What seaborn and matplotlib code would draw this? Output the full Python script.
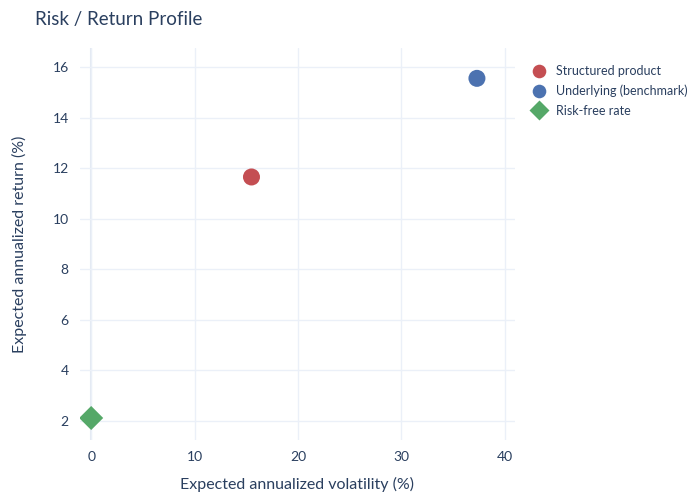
import numpy as np
import pandas as pd
import seaborn as sns
import matplotlib.pyplot as plt

# Data
labels = ['Structured product', 'Underlying (benchmark)', 'Risk-free rate']
volatility = [15.5, 37.3, 0.0]
returns = [11.65, 15.55, 2.12]
colors = ['#c44e52', '#4c72b0', '#55a868']
markers = ['o', 'o', 'D']

sns.set_style('white')
plt.rcParams['font.family'] = ['Lato', 'DejaVu Sans']
txt = '#2a3f5f'

df = pd.DataFrame({'vol': volatility, 'ret': returns, 'name': labels})

fig = plt.figure(figsize=(7, 5), dpi=100)
ax = fig.add_axes([0.114, 0.12, 0.622, 0.784])

sns.scatterplot(data=df, x='vol', y='ret', hue='name', style='name',
                hue_order=labels, style_order=labels,
                palette=colors, markers=markers, s=150, edgecolor='none', ax=ax)

ax.set_xlim(-1.1, 41)
ax.set_ylim(1.25, 16.75)
ax.set_xticks([0, 10, 20, 30, 40])
ax.set_yticks([2, 4, 6, 8, 10, 12, 14, 16])
ax.grid(True, color='#ebf0f8', linewidth=1)
ax.axvline(0, color='#e3e9f2', linewidth=1.5, zorder=0)
ax.set_axisbelow(True)
for s in ax.spines.values():
    s.set_visible(False)
ax.tick_params(colors=txt, labelsize=10, length=0, pad=8)
ax.set_xlabel('Expected annualized volatility (%)', color=txt, fontsize=11.5, labelpad=10)
ax.set_ylabel('Expected annualized return (%)', color=txt, fontsize=11.5, labelpad=18)
fig.text(0.05, 0.962, 'Risk / Return Profile', color=txt, fontsize=13.5, va='center')

leg = ax.legend(loc='upper left', bbox_to_anchor=(1.0, 0.985), frameon=False,
                fontsize=9, handletextpad=0.4, labelspacing=0.6, markerscale=0.8)
for t in leg.get_texts():
    t.set_color(txt)

fig.savefig('out.png', dpi=100)
